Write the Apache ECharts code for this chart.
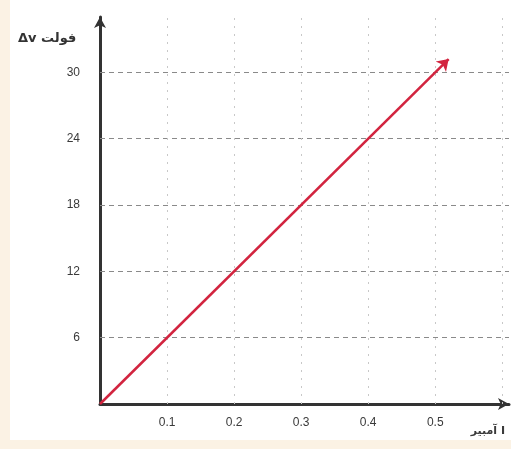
<!DOCTYPE html>
<html><head><meta charset="utf-8">
<script src="https://cdn.jsdelivr.net/npm/echarts@6/dist/echarts.min.js"></script>
<style>
html,body{margin:0;padding:0;background:#fbf2e4;width:511px;height:449px;overflow:hidden}
#c{position:absolute;left:10px;top:0;width:501px;height:440px;background:#ffffff}
</style></head><body>
<div id="c"></div>
<script>
const xTicks = [0.1, 0.2, 0.3, 0.4, 0.5, 0.6];
const xTickLabels = ['0.1', '0.2', '0.3', '0.4', '0.5', ''];
const yTicks = [6, 12, 18, 24, 30];
const linePoints = [[0, 0], [0.52, 31.2]];
const yName = 'Δv فولت';
const xName = 'آمبير I';

const chart = echarts.init(document.getElementById('c'), null, {renderer: 'canvas'});
chart.setOption({
  animation: false,
  backgroundColor: '#ffffff',
  grid: {left: 90, right: 2, top: 17, bottom: 36, containLabel: false},
  xAxis: {
    type: 'value', min: 0, max: 0.61, interval: 0.1,
    axisLine: {show: true, symbol: ['none', 'arrow'], symbolSize: [9, 11], lineStyle: {color: '#333', width: 3}},
    axisTick: {show: false},
    splitLine: {show: false},
    axisLabel: {
      showMaxLabel: false, showMinLabel: false, margin: 13, color: '#3a3a3a', fontSize: 12, fontFamily: 'Liberation Sans',
      formatter: v => { const i = xTicks.findIndex(t => Math.abs(t - v) < 1e-6); return i >= 0 ? xTickLabels[i] : ''; }
    }
  },
  yAxis: {
    type: 'value', min: 0, max: 35, interval: 6,
    axisLine: {show: true, symbol: ['none', 'arrow'], symbolSize: [9, 11], lineStyle: {color: '#333', width: 3}},
    axisTick: {show: false},
    splitLine: {show: false},
    axisLabel: {showMaxLabel: false, showMinLabel: false, margin: 20, color: '#3a3a3a', fontSize: 12, fontFamily: 'Liberation Sans'}
  },
  graphic: [
    {type: 'text', left: 8, top: 32, style: {text: yName, font: 'bold 13px "DejaVu Sans"', fill: '#333'}},
    {type: 'text', right: 6, top: 426, style: {text: xName, font: 'bold 11px "DejaVu Sans"', fill: '#3a3a3a'}}
  ],
  series: [
    {
      type: 'line', data: [], silent: true,
      markLine: {
        silent: true, symbol: 'none', label: {show: false},
        lineStyle: {color: '#8a8a8a', type: [5, 4], width: 1},
        data: yTicks.map(v => ({yAxis: v}))
      }
    },
    {
      type: 'line', data: [], silent: true,
      markLine: {
        silent: true, symbol: 'none', label: {show: false},
        lineStyle: {color: '#c8c8c8', type: [2, 6], width: 1},
        data: xTicks.map(v => ({xAxis: v}))
      }
    },
    {
      type: 'lines', coordinateSystem: 'cartesian2d', silent: true, z: 5,
      symbol: ['none', 'arrow'], symbolSize: 11,
      lineStyle: {color: '#d2243f', width: 2.5, opacity: 1},
      data: [{coords: linePoints}]
    }
  ]
});
</script>
</body></html>
